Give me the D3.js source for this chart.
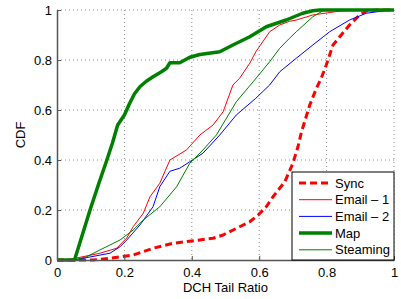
<!DOCTYPE html>
<html>
<head>
<meta charset="utf-8">
<script src="https://cdn.jsdelivr.net/npm/d3@7"></script>
<style>
  body { margin: 0; background: #fff; }
  text { font-family: "Liberation Sans", Arial, sans-serif; fill: #000; }
</style>
</head>
<body>
<div id="chart"></div>
<script>
// CDF curves: [ratio, cdf]
const syncX = [0.0, 0.108, 0.157, 0.226, 0.285, 0.345, 0.424, 0.463, 0.493, 0.542, 0.572, 0.597, 0.621, 0.641, 0.676, 0.70, 0.715, 0.725, 0.75, 0.77, 0.784, 0.799, 0.809, 0.819, 0.839, 0.868, 0.898, 0.918, 0.95, 1.0];
const syncY = [0.0, 0.0, 0.007, 0.02, 0.047, 0.067, 0.08, 0.087, 0.10, 0.133, 0.153, 0.18, 0.213, 0.253, 0.313, 0.387, 0.453, 0.51, 0.62, 0.687, 0.727, 0.78, 0.82, 0.86, 0.893, 0.94, 0.98, 0.996, 1.0, 1.0];

const email1X = [0.0, 0.029, 0.127, 0.177, 0.207, 0.226, 0.256, 0.276, 0.305, 0.335, 0.384, 0.424, 0.463, 0.493, 0.522, 0.542, 0.572, 0.59, 0.631, 0.661, 0.69, 0.71, 0.759, 0.84, 0.90, 1.0];
const email1Y = [0.0, 0.0, 0.027, 0.047, 0.088, 0.133, 0.187, 0.253, 0.307, 0.40, 0.44, 0.50, 0.54, 0.593, 0.70, 0.727, 0.787, 0.833, 0.913, 0.94, 0.955, 0.96, 0.98, 0.996, 1.0, 1.0];

const email2X = [0.0, 0.05, 0.157, 0.187, 0.207, 0.246, 0.285, 0.305, 0.335, 0.364, 0.394, 0.433, 0.483, 0.532, 0.59, 0.631, 0.661, 0.71, 0.759, 0.809, 0.868, 0.918, 0.987, 1.0];
const email2Y = [0.0, 0.0, 0.027, 0.053, 0.08, 0.14, 0.213, 0.293, 0.355, 0.367, 0.393, 0.427, 0.50, 0.58, 0.647, 0.70, 0.753, 0.807, 0.86, 0.913, 0.96, 0.987, 1.0, 1.0];

const mapX = [0.0, 0.052, 0.075, 0.098, 0.125, 0.148, 0.165, 0.18, 0.20, 0.215, 0.23, 0.246, 0.265, 0.285, 0.31, 0.325, 0.335, 0.364, 0.394, 0.424, 0.483, 0.522, 0.572, 0.621, 0.68, 0.729, 0.759, 0.78, 1.0];
const mapY = [0.0, 0.0, 0.10, 0.20, 0.31, 0.40, 0.47, 0.54, 0.58, 0.625, 0.665, 0.693, 0.715, 0.733, 0.753, 0.767, 0.789, 0.789, 0.811, 0.822, 0.833, 0.86, 0.893, 0.933, 0.96, 0.987, 0.997, 1.0, 1.0];

const streamX = [0.0, 0.05, 0.088, 0.127, 0.187, 0.226, 0.256, 0.305, 0.355, 0.394, 0.433, 0.473, 0.532, 0.582, 0.631, 0.661, 0.69, 0.71, 0.759, 0.788, 0.81, 1.0];
const streamY = [0.0, 0.0, 0.013, 0.04, 0.08, 0.12, 0.16, 0.213, 0.293, 0.387, 0.44, 0.50, 0.633, 0.713, 0.793, 0.847, 0.887, 0.913, 0.973, 0.996, 1.0, 1.0];

const seriesNames = ['Sync', 'Email \u2013 1', 'Email \u2013 2', 'Map', 'Steaming'];
const tickVals = [0, 0.2, 0.4, 0.6, 0.8, 1];

const series = [
  { name: seriesNames[0], xs: syncX, ys: syncY, color: '#ff0000', w: 3, dash: '7,4' },
  { name: seriesNames[1], xs: email1X, ys: email1Y, color: '#ff0000', w: 1, dash: null },
  { name: seriesNames[2], xs: email2X, ys: email2Y, color: '#0000ff', w: 1, dash: null },
  { name: seriesNames[3], xs: mapX, ys: mapY, color: '#008000', w: 3.5, dash: null },
  { name: seriesNames[4], xs: streamX, ys: streamY, color: '#008000', w: 1, dash: null }
];

const W = 401, H = 299;
const margin = { top: 10, right: 7, bottom: 39, left: 57 };
const width = W - margin.left - margin.right;
const height = H - margin.top - margin.bottom;

const svg = d3.select('#chart').append('svg')
  .attr('width', W)
  .attr('height', H);

const g = svg.append('g')
  .attr('transform', `translate(${margin.left},${margin.top})`);

const x = d3.scaleLinear().domain([0, 1]).range([0, width]);
const y = d3.scaleLinear().domain([0, 1]).range([height, 0]);

// dotted grid
g.append('g').selectAll('line.gx')
  .data(tickVals.slice(1))
  .enter().append('line')
  .attr('x1', d => x(d)).attr('x2', d => x(d))
  .attr('y1', 0).attr('y2', height)
  .attr('stroke', '#888').attr('stroke-width', 1)
  .attr('stroke-dasharray', '1,3');

g.append('g').selectAll('line.gy')
  .data(tickVals.slice(1))
  .enter().append('line')
  .attr('x1', 0).attr('x2', width)
  .attr('y1', d => y(d)).attr('y2', d => y(d))
  .attr('stroke', '#888').attr('stroke-width', 1)
  .attr('stroke-dasharray', '1,3');

// lines
const line = d3.line()
  .x(d => x(d[0]))
  .y(d => y(d[1]));

series.forEach(s => {
  const pts = s.xs.map((v, i) => [v, s.ys[i]]);
  g.append('path')
    .datum(pts)
    .attr('fill', 'none')
    .attr('stroke', s.color)
    .attr('stroke-width', s.w)
    .attr('stroke-dasharray', s.dash)
    .attr('stroke-linejoin', 'round')
    .attr('d', line);
});

// axes
const xAxis = g.append('g')
  .attr('transform', `translate(0,${height})`)
  .call(d3.axisBottom(x).tickValues(tickVals).tickFormat(d3.format('')).tickSizeInner(-4).tickSizeOuter(0).tickPadding(8));
const yAxis = g.append('g')
  .call(d3.axisLeft(y).tickValues(tickVals).tickFormat(d3.format('')).tickSizeInner(-4).tickSizeOuter(0).tickPadding(5));

[xAxis, yAxis].forEach(a => {
  a.select('.domain').attr('stroke', '#555').attr('stroke-width', 1.5);
  a.selectAll('.tick line').attr('stroke', '#555');
  a.selectAll('.tick text').style('font-size', '13px').style('font-family', '"Liberation Sans", Arial, sans-serif').attr('fill', '#000');
});

// axis labels
svg.append('text')
  .attr('x', margin.left + width / 2)
  .attr('y', 292)
  .attr('text-anchor', 'middle')
  .style('font-size', '13px')
  .text('DCH Tail Ratio');

svg.append('text')
  .attr('transform', `translate(25,${margin.top + height / 2}) rotate(-90)`)
  .attr('text-anchor', 'middle')
  .style('font-size', '13px')
  .text('CDF');

// legend
const lg = g.append('g')
  .attr('transform', `translate(${x(1) - 102},${y(0) - 88})`);

lg.append('rect')
  .attr('width', 102).attr('height', 88)
  .attr('fill', '#fff')
  .attr('stroke', '#000').attr('stroke-width', 1);

series.forEach((s, i) => {
  const ly = 11 + i * 16.7;
  lg.append('line')
    .attr('x1', 7).attr('x2', 40)
    .attr('y1', ly).attr('y2', ly)
    .attr('stroke', s.color)
    .attr('stroke-width', s.w)
    .attr('stroke-dasharray', s.dash);
  lg.append('text')
    .attr('x', 43).attr('y', ly + 4.5)
    .style('font-size', '13px')
    .text(s.name);
});
</script>
</body>
</html>
